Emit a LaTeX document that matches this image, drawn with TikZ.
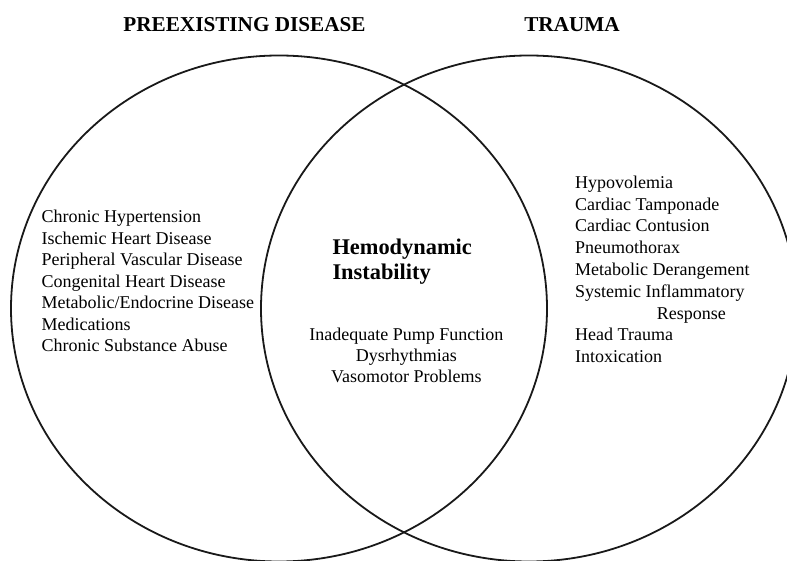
\documentclass[tikz,border=0pt]{standalone}
\usepackage{fontspec}
\setmainfont{Liberation Serif}
\begin{document}
\begin{tikzpicture}[x=1pt,y=-1pt,
  venn/.style={line width=1.8pt, draw=black!90},
  head/.style={font=\fontsize{21.2}{25}\selectfont\bfseries, inner sep=0pt, anchor=base},
  item/.style={font=\fontsize{18}{21.5}\selectfont, inner sep=0pt, anchor=base west},
  citem/.style={font=\fontsize{18}{21.5}\selectfont, inner sep=0pt, anchor=base},
  core/.style={font=\fontsize{22.4}{26}\selectfont\bfseries, inner sep=0pt, anchor=base west}]
\useasboundingbox (0,0) rectangle (787,561);
\begin{scope}
\clip (0,0) rectangle (787,561);
\draw[venn] (279,308.5) ellipse [x radius=268pt, y radius=253pt];
\draw[venn] (529,308.5) ellipse [x radius=268pt, y radius=253pt];
\end{scope}
\node[head] (h1) at (244.5,31.4) {PREEXISTING DISEASE};
\node[head] (h2) at (572,31.4) {TRAUMA};
% left items
\foreach \t [count=\i] in {Chronic Hypertension, Ischemic Heart Disease, Peripheral Vascular Disease, Congenital Heart Disease, Metabolic/Endocrine Disease, Medications, Chronic Substance Abuse}
  \node[item] (l\i) at (41.5,{222.7+(\i-1)*21.5}) {\t};
% right items
\node[item] (r1) at (575,188.3) {Hypovolemia};
\node[item] (r2) at (575,210.1) {Cardiac Tamponade};
\node[item] (r3) at (575,231.9) {Cardiac Contusion};
\node[item] (r4) at (575,253.7) {Pneumothorax};
\node[item] (r5) at (575,275.5) {Metabolic Derangement};
\node[item] (r6) at (575,297.3) {Systemic Inflammatory};
\node[item] (r7) at (656.7,319.1) {Response};
\node[item] (r8) at (575,340.9) {Head Trauma};
\node[item] (r9) at (575,362.7) {Intoxication};
% center
\node[core] (c1) at (332.3,254.3) {Hemodynamic};
\node[core] (c2) at (332.3,280) {Instability};
\node[citem] (m1) at (406.3,340) {Inadequate Pump Function};
\node[citem] (m2) at (406.3,361) {Dysrhythmias};
\node[citem] (m3) at (406.3,382) {Vasomotor Problems};
\end{tikzpicture}
\end{document}
